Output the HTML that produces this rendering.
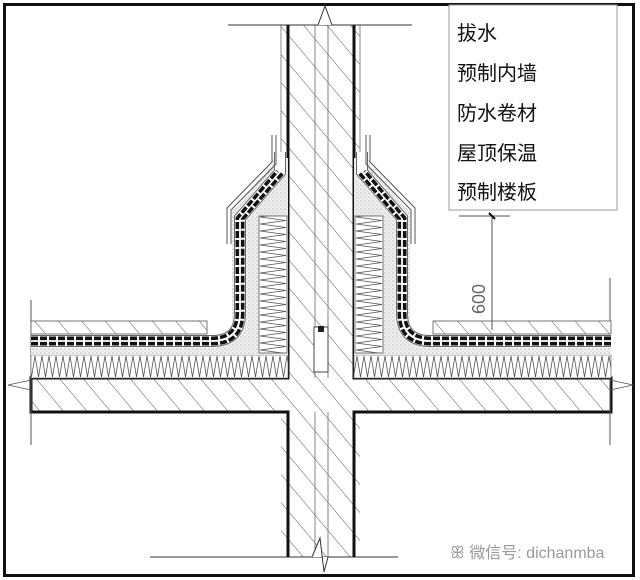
<!DOCTYPE html>
<html><head><meta charset="utf-8"><style>
html,body{margin:0;padding:0;background:#fff;width:640px;height:580px;overflow:hidden}
svg{display:block}
</style></head><body>
<svg width="640" height="580" viewBox="0 0 640 580" xmlns="http://www.w3.org/2000/svg">
<defs>
<pattern id="hat" patternUnits="userSpaceOnUse" width="18" height="18" patternTransform="rotate(-40)">
<rect width="18" height="18" fill="#fff"/><line x1="0" y1="0" x2="0" y2="18" stroke="#444" stroke-width="0.9"/>
</pattern>
<pattern id="zz" patternUnits="userSpaceOnUse" width="7" height="23" x="0" y="355">
<rect width="7" height="23" fill="#fff"/><path d="M0,1 L3.5,22 L7,1" fill="none" stroke="#555" stroke-width="0.8"/>
</pattern>
<pattern id="zzv" patternUnits="userSpaceOnUse" width="28" height="7" x="259" y="0">
<rect width="28" height="7" fill="#fff"/><path d="M1,0 L27,3.5 L1,7" fill="none" stroke="#555" stroke-width="0.8"/>
</pattern>
<pattern id="zzv2" patternUnits="userSpaceOnUse" width="28" height="7" x="355" y="0">
<rect width="28" height="7" fill="#fff"/><path d="M1,0 L27,3.5 L1,7" fill="none" stroke="#555" stroke-width="0.8"/>
</pattern>
<pattern id="sand" patternUnits="userSpaceOnUse" width="4" height="4">
<rect width="4" height="4" fill="#eee"/><circle cx="1" cy="1" r="0.6" fill="#aaa"/><circle cx="3" cy="3" r="0.5" fill="#bbb"/>
</pattern>
</defs>

<rect x="4.5" y="4.5" width="629" height="571" fill="none" stroke="#111" stroke-width="3"/>

<rect x="281" y="25" width="79" height="532" fill="url(#hat)"/>
<line x1="281" y1="25" x2="281" y2="160" stroke="#888" stroke-width="1"/>
<line x1="360" y1="25" x2="360" y2="160" stroke="#888" stroke-width="1"/>
<line x1="315" y1="25" x2="315" y2="557" stroke="#666" stroke-width="0.8"/>
<line x1="328" y1="25" x2="328" y2="557" stroke="#666" stroke-width="0.8"/>
<line x1="228" y1="25" x2="412" y2="25" stroke="#333" stroke-width="1"/>
<path d="M318,25 L325,6 L332,25" fill="#fff" stroke="#333" stroke-width="1"/>
<line x1="150" y1="557" x2="398" y2="557" stroke="#333" stroke-width="1"/>
<path d="M312,557 L320,538 L324,572 L328,557" fill="#fff" stroke="#333" stroke-width="1"/>

<rect x="31" y="378" width="580" height="34" fill="url(#hat)"/>
<path d="M288,25 V378 H31 V412 H288 V557" fill="none" stroke="#111" stroke-width="3"/>
<path d="M354,25 V378 H611 V412 H354 V557" fill="none" stroke="#111" stroke-width="3"/>
<line x1="31" y1="300" x2="31" y2="445" stroke="#555" stroke-width="1"/>
<line x1="610" y1="278" x2="610" y2="445" stroke="#555" stroke-width="1"/>
<path d="M8,385 L31,380 L31,390 Z" fill="none" stroke="#555" stroke-width="0.8"/>
<path d="M633,385 L610,380 L610,390 Z" fill="none" stroke="#555" stroke-width="0.8"/>

<rect x="31" y="355" width="257" height="23" fill="url(#zz)" stroke="#555" stroke-width="0.6"/>
<rect x="354" y="355" width="257" height="23" fill="url(#zz)" stroke="#555" stroke-width="0.6"/>

<path d="M31,347 H215 Q232,347 232,330 V212 L272,166 V158 L288,158 V355 H31 Z" fill="url(#sand)"/>
<path d="M611,347 H427 Q410,347 410,330 V212 L370,166 V158 L354,158 V355 H611 Z" fill="url(#sand)"/>
<rect x="259" y="216" width="28" height="137" fill="url(#zzv)" stroke="#555" stroke-width="0.8"/>
<rect x="355" y="216" width="28" height="137" fill="url(#zzv2)" stroke="#555" stroke-width="0.8"/>

<rect x="31" y="321" width="176" height="13" fill="url(#hat)" stroke="#555" stroke-width="0.8"/>
<rect x="433" y="321" width="178" height="13" fill="url(#hat)" stroke="#555" stroke-width="0.8"/>

<g fill="none">
<path d="M31,341 H212 Q240,341 240,313 V218 L280,172 V152" stroke="#fff" stroke-width="13"/>
<path d="M31,341 H212 Q240,341 240,313 V218 L280,172 V152" stroke="#666" stroke-width="12"/>
<path d="M31,341 H212 Q240,341 240,313 V218 L280,172 V152" stroke="#fff" stroke-width="10"/>
<path d="M31,338.3 H212 Q237.3,338.3 237.3,313 V218 L277.3,171" stroke="#111" stroke-width="3.6" stroke-dasharray="7 2"/>
<path d="M31,343.7 H212 Q242.7,343.7 242.7,313 V219 L282.7,173" stroke="#111" stroke-width="3.6" stroke-dasharray="7 2"/>
<path d="M611,341 H430 Q402,341 402,313 V218 L362,172 V152" stroke="#fff" stroke-width="13"/>
<path d="M611,341 H430 Q402,341 402,313 V218 L362,172 V152" stroke="#666" stroke-width="12"/>
<path d="M611,341 H430 Q402,341 402,313 V218 L362,172 V152" stroke="#fff" stroke-width="10"/>
<path d="M611,338.3 H430 Q404.7,338.3 404.7,313 V218 L364.7,171" stroke="#111" stroke-width="3.6" stroke-dasharray="7 2"/>
<path d="M611,343.7 H430 Q399.3,343.7 399.3,313 V219 L359.3,173" stroke="#111" stroke-width="3.6" stroke-dasharray="7 2"/>
<path d="M227,244 V208 L272,162 V135" stroke="#555" stroke-width="1"/>
<path d="M231,244 V210 L276,164 V135" stroke="#555" stroke-width="1"/>
<path d="M415,244 V208 L370,162 V135" stroke="#555" stroke-width="1"/>
<path d="M411,244 V210 L366,164 V135" stroke="#555" stroke-width="1"/>
</g>
<rect x="314" y="327" width="14" height="45" fill="#fff" stroke="#444" stroke-width="1"/>
<rect x="318" y="326" width="6" height="6" fill="#222"/>

<line x1="492" y1="215" x2="492" y2="330" stroke="#555" stroke-width="1"/>
<line x1="459" y1="216" x2="510" y2="216" stroke="#555" stroke-width="1"/>
<line x1="489" y1="213" x2="495" y2="219" stroke="#111" stroke-width="2"/>
<text x="0" y="0" transform="translate(485,314) rotate(-90)" font-family="Liberation Sans, sans-serif" font-size="18" fill="#666">600</text>

<rect x="449" y="5" width="168" height="205" fill="#fff" stroke="#999" stroke-width="1"/>
<g font-family="Liberation Sans, 'Noto Sans CJK SC', sans-serif" font-size="20" fill="#111">
<text x="457" y="40">拔水</text>
<text x="457" y="80">预制内墙</text>
<text x="457" y="120">防水卷材</text>
<text x="457" y="160">屋顶保温</text>
<text x="457" y="199">预制楼板</text>
</g>

<text x="450" y="558" font-family="Liberation Sans, 'Noto Sans CJK SC', sans-serif" font-size="16" fill="#999">ꕥ 微信号: dichanmba</text>
</svg>
</body></html>
